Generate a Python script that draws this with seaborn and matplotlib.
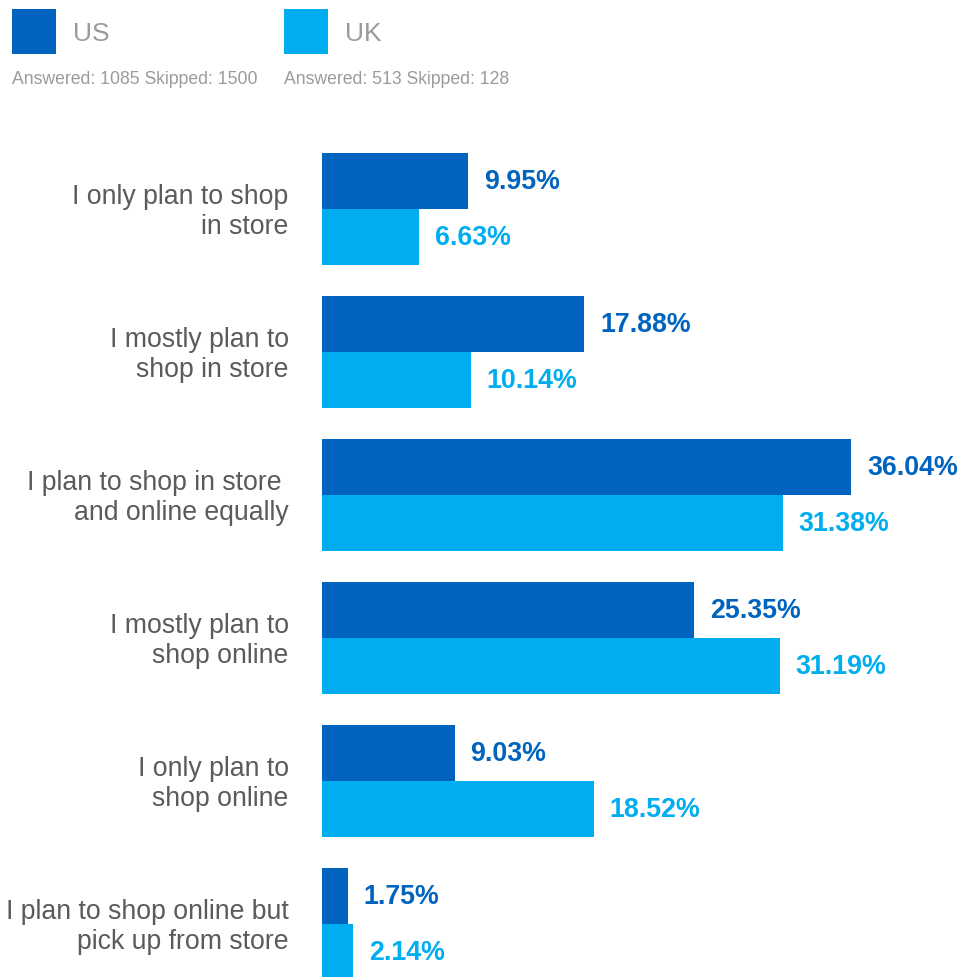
import matplotlib
matplotlib.use("Agg")
import matplotlib.pyplot as plt
from matplotlib.patches import Rectangle
from matplotlib.transforms import ScaledTranslation
import seaborn as sns
import pandas as pd

# Survey answers and the share of respondents per country
categories = [
    "I only plan to shop\nin store",
    "I mostly plan to\nshop in store",
    "I plan to shop in store \nand online equally",
    "I mostly plan to\nshop online",
    "I only plan to\nshop online",
    "I plan to shop online but\npick up from store",
]
us_values = [9.95, 17.88, 36.04, 25.35, 9.03, 1.75]
uk_values = [6.63, 10.14, 31.38, 31.19, 18.52, 2.14]
countries = ["US", "UK"]
respondents = ["Answered: 1085 Skipped: 1500", "Answered: 513 Skipped: 128"]

colors = {"US": "#0064be", "UK": "#00aeef"}
label_grey = "#5a5b5d"
legend_grey = "#9b9b9b"

df = pd.DataFrame({
    "answer": categories * 2,
    "country": ["US"] * len(categories) + ["UK"] * len(categories),
    "pct": us_values + uk_values,
})

sns.set_theme(style="white")
plt.rcParams["font.family"] = ["Liberation Sans", "DejaVu Sans"]

W, H = 961, 978
fig = plt.figure(figsize=(W / 100, H / 100), dpi=100)

# Bar area: starts at x=322 px and runs to the right edge
px_per_unit = 14.68
left_px = 322
ax = fig.add_axes([left_px / W, 0, (W - left_px) / W, 1])

sns.barplot(
    data=df, y="answer", x="pct", hue="country", order=categories,
    hue_order=countries, palette=colors, orient="h", width=0.783,
    saturation=1, ax=ax, legend=False, errorbar=None, linewidth=0,
)

ax.set_xlim(0, (W - left_px) / px_per_unit)
group_px = 143
first_center_px = 210
ax.set_ylim(5 + (H - (first_center_px + 5 * group_px)) / group_px,
            -first_center_px / group_px)

for s in ax.spines.values():
    s.set_visible(False)
ax.set_xticks([])
ax.set_xlabel("")
ax.set_ylabel("")
ax.tick_params(axis="y", length=0, pad=24)
ax.set_yticks(range(len(categories)))
ax.set_yticklabels(categories, fontsize=19.2, color=label_grey,
                   linespacing=1.2)
lift = ScaledTranslation(0, 3 / 100, fig.dpi_scale_trans)
for lbl in ax.get_yticklabels():
    lbl.set_transform(lbl.get_transform() + lift)

# Value labels at the end of each bar
for container, country in zip(ax.containers, countries):
    for bar in container:
        w = bar.get_width()
        yc = bar.get_y() + bar.get_height() / 2
        ax.annotate(f"{w:.2f}%", xy=(w, yc), xytext=(11.5, 0),
                    textcoords="offset points", ha="left", va="center",
                    fontsize=19.3, fontweight="bold", color=colors[country],
                    annotation_clip=False)

# Legend header with colour squares and respondent counts
legend_x = [12, 284]
for x0, country, note in zip(legend_x, countries, respondents):
    fig.patches.append(Rectangle((x0 / W, 1 - 55 / H), 44 / W, 45 / H,
                                 transform=fig.transFigure,
                                 color=colors[country], linewidth=0))
    fig.text((x0 + 61) / W, 1 - 34 / H, country, fontsize=19,
             color=legend_grey, ha="left", va="center")
    fig.text(x0 / W, 1 - 79 / H, note, fontsize=12.7,
             color=legend_grey, ha="left", va="center")

fig.savefig("out.png", dpi=100)
